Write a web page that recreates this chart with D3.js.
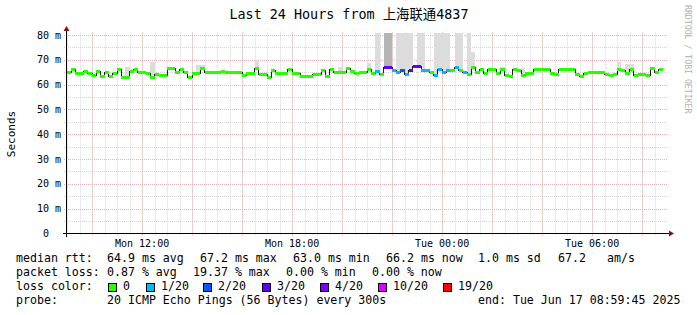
<!DOCTYPE html>
<html>
<head>
<meta charset="utf-8">
<script src="https://cdn.jsdelivr.net/npm/d3@7"></script>
<style>
  body { margin: 0; background: #fff; }
  svg { display: block; }
  text { font-family: "DejaVu Sans Mono", "Noto Sans CJK SC", monospace; fill: #000; white-space: pre; }
</style>
</head>
<body>
<svg id="chart" width="697" height="315"></svg>
<script>
// time window of the graph (UTC)
const windowStart = Date.UTC(2025, 5, 16, 8, 59, 45);
const windowEnd = Date.UTC(2025, 5, 17, 8, 59, 45);
const firstSample = Date.UTC(2025, 5, 16, 9, 0, 0);
const stepMinutes = 10;

// median rtt per step (ms)
const medianRtt = [
  65.2, 66.3, 64.8, 64.8, 65.6, 64.8, 64.0, 65.4, 63.4, 65.2,
  63.5, 64.8, 66.2, 63.2, 63.2, 65.5, 66.2, 65.2, 65.2, 64.5,
  63.2, 64.3, 63.9, 63.9, 66.6, 66.6, 65.2, 66.2, 65.2, 63.2,
  64.6, 64.6, 66.6, 65.2, 65.0, 65.2, 65.2, 65.5, 65.2, 65.2,
  65.0, 65.2, 63.9, 64.8, 64.8, 66.6, 64.3, 64.3, 63.2, 65.9,
  64.8, 64.8, 64.8, 66.2, 64.8, 64.8, 63.5, 63.5, 63.5, 64.3,
  64.3, 65.9, 63.5, 66.2, 65.2, 65.2, 65.2, 66.6, 65.5, 64.8,
  65.2, 65.2, 66.2, 64.8, 65.5, 64.2, 67.2, 67.2, 65.8, 64.9,
  65.8, 64.2, 65.8, 67.5, 67.5, 65.8, 65.8, 64.9, 64.0, 66.3,
  64.9, 65.8, 65.8, 66.9, 65.8, 64.9, 64.2, 66.9, 65.2, 66.4,
  64.8, 66.4, 66.4, 64.8, 66.2, 64.0, 63.6, 66.2, 65.8, 64.0,
  64.8, 64.8, 66.2, 66.4, 66.4, 66.4, 64.8, 64.4, 66.4, 66.4,
  66.4, 66.4, 64.4, 63.6, 64.6, 65.2, 65.2, 65.2, 65.2, 64.4,
  63.8, 64.4, 66.4, 65.8, 64.8, 66.2, 63.8, 64.4, 64.4, 63.8,
  66.6, 65.2, 66.4
];

// lost pings out of 20 per step
const lossCount = [
  0, 0, 0, 0, 0, 0, 0, 0, 0, 0,
  0, 0, 0, 0, 0, 0, 0, 0, 0, 0,
  0, 0, 0, 0, 0, 0, 0, 0, 0, 0,
  0, 0, 0, 0, 0, 0, 0, 0, 0, 0,
  0, 0, 0, 0, 0, 0, 0, 0, 0, 0,
  0, 0, 0, 0, 0, 0, 0, 0, 0, 0,
  0, 0, 0, 0, 0, 0, 0, 0, 0, 0,
  0, 0, 0, 0, 1, 0, 3, 3, 1, 1,
  2, 1, 3, 3, 3, 1, 1, 0, 1, 1,
  1, 1, 0, 1, 0, 1, 0, 0, 0, 0,
  0, 0, 0, 0, 0, 0, 0, 0, 0, 0,
  0, 0, 0, 0, 0, 0, 0, 0, 0, 0,
  0, 0, 0, 0, 0, 0, 0, 0, 0, 0,
  0, 0, 0, 0, 0, 0, 0, 0, 0, 0,
  0, 0, 0
];

// smoke that reaches above the median line (step index, highest ping in ms)
const smokeSteps = [14, 20, 31, 32, 45, 65, 72, 74, 76, 77, 79, 80, 81, 82, 84, 85, 88, 89, 90, 91, 93, 94, 96, 97, 104, 109, 132, 134, 135];
const smokeTop = [67.1, 69.1, 67.9, 67.9, 69.9, 67.1, 68.7, 90, 90, 90, 90, 90, 90, 90, 90, 90, 90, 90, 90, 90, 90, 90, 90, 73.1, 67.1, 66.7, 69.1, 68.3, 68.3];
// steps where most pings sit high (darker smoke)
const denseSteps = [76, 77];
const denseTop = [90, 90];

const yTicks = [0, 10, 20, 30, 40, 50, 60, 70, 80];
const lossLevels = [0, 1, 2, 3, 4, 10, 19];
const lossLabels = ["0", "1/20", "2/20", "3/20", "4/20", "10/20", "19/20"];
const lossPalette = ["#26ff00", "#00b8ff", "#0059ff", "#5e00ff", "#7e00ff", "#dd00ff", "#ff0000"];

const titleText = "Last 24 Hours from 上海联通4837";
const rttLegend = ["median rtt:", "64.9 ms avg", "67.2 ms max", "63.0 ms min", "66.2 ms now", "1.0 ms sd", "67.2", "am/s"];
const lossLegend = ["packet loss:", "0.87 % avg", "19.37 % max", "0.00 % min", "0.00 % now"];
const probeLegend = ["probe:", "20 ICMP Echo Pings (56 Bytes) every 300s", "end: Tue Jun 17 08:59:45 2025"];

// layout
const W = 697, H = 315;
const plotL = 67, plotR = 667, plotT = 32.5, plotB = 233.5;
const svg = d3.select('#chart');
svg.append('rect').attr('width', W).attr('height', H).attr('fill', '#fff');

const x = d3.scaleUtc().domain([windowStart, windowEnd]).range([plotL, plotR]);
const y = d3.scaleLinear().domain([0, 81]).range([plotB, plotT]);
const lossColor = d3.scaleThreshold().domain(lossLevels.slice(1)).range(lossPalette);
const stepTime = i => firstSample + i * stepMinutes * 60000;

const minorColor = '#d4d4d4', majorColor = '#ebb0b0';

// grid
const grid = svg.append('g');
const px = v => Math.round(v) + 0.5;
const minorT = d3.utcMinute.every(30).range(new Date(windowStart), new Date(windowEnd));
const majorT = d3.utcHour.every(2).range(new Date(windowStart), new Date(windowEnd));
grid.selectAll('.vmin').data(minorT).join('line')
  .attr('x1', d => px(x(d))).attr('x2', d => px(x(d)))
  .attr('y1', plotT).attr('y2', plotB + 3)
  .attr('stroke', minorColor).attr('stroke-dasharray', '1,1');
grid.selectAll('.hmin').data(yTicks.slice(0, -1).map(v => v + 5)).join('line')
  .attr('x1', plotL - 3).attr('x2', plotR)
  .attr('y1', d => px(y(d))).attr('y2', d => px(y(d)))
  .attr('stroke', minorColor).attr('stroke-dasharray', '1,1');
grid.selectAll('.vmaj').data(majorT).join('line')
  .attr('x1', d => px(x(d))).attr('x2', d => px(x(d)))
  .attr('y1', plotT).attr('y2', plotB + 3)
  .attr('stroke', majorColor).attr('stroke-dasharray', '1,1');
grid.selectAll('.hmaj').data(yTicks.slice(1)).join('line')
  .attr('x1', plotL - 3).attr('x2', plotR)
  .attr('y1', d => px(y(d))).attr('y2', d => px(y(d)))
  .attr('stroke', majorColor).attr('stroke-dasharray', '1,1');

// plot clip
svg.append('clipPath').attr('id', 'plot')
  .append('rect').attr('x', plotL).attr('y', plotT).attr('width', plotR - plotL).attr('height', plotB - plotT);
const plot = svg.append('g').attr('clip-path', 'url(#plot)').attr('shape-rendering', 'crispEdges');

// smoke
plot.selectAll('.smoke').data(smokeSteps).join('rect')
  .attr('x', d => x(stepTime(d))).attr('width', d => x(stepTime(d + 1)) - x(stepTime(d)))
  .attr('y', (d, i) => y(Math.min(smokeTop[i], 81)))
  .attr('height', (d, i) => y(medianRtt[d]) - y(Math.min(smokeTop[i], 81)))
  .attr('fill', '#dcdcdc');
plot.selectAll('.dense').data(denseSteps).join('rect')
  .attr('x', d => x(stepTime(d))).attr('width', d => x(stepTime(d + 1)) - x(stepTime(d)))
  .attr('y', (d, i) => y(Math.min(denseTop[i], 81)))
  .attr('height', (d, i) => y(medianRtt[d]) - y(Math.min(denseTop[i], 81)))
  .attr('fill', '#b4b4b4');

// median line (black steps) with loss-coloured bands on top
const pts = medianRtt.map((v, i) => [stepTime(i), v]);
pts.push([stepTime(medianRtt.length), medianRtt[medianRtt.length - 1]]);
plot.append('path').datum(pts)
  .attr('d', d3.line().x(d => x(d[0])).y(d => Math.round(y(d[1])) + 0.5).curve(d3.curveStepAfter))
  .attr('fill', 'none').attr('stroke', '#202020').attr('stroke-width', 1);
plot.selectAll('.band').data(medianRtt).join('rect')
  .attr('x', (d, i) => x(stepTime(i))).attr('width', (d, i) => x(stepTime(i + 1)) - x(stepTime(i)))
  .attr('y', d => Math.round(y(d)) - 1).attr('height', 3)
  .attr('fill', (d, i) => lossColor(lossCount[i]));

// axes
const axis = svg.append('g').attr('shape-rendering', 'crispEdges');
axis.append('line').attr('x1', plotL - 4).attr('x2', plotR + 2).attr('y1', plotB).attr('y2', plotB).attr('stroke', '#000');
axis.append('line').attr('x1', plotL - 0.5).attr('x2', plotL - 0.5).attr('y1', plotB + 3).attr('y2', plotT - 2).attr('stroke', '#000');
svg.append('path').attr('d', `M${plotL - 3.5},${plotT - 1.5} L${plotL + 2.5},${plotT - 1.5} L${plotL - 0.5},${plotT - 6.5} Z`).attr('fill', '#8b1010');
svg.append('path').attr('d', `M${plotR + 2},${plotB - 3} L${plotR + 2},${plotB + 3} L${plotR + 7},${plotB} Z`).attr('fill', '#8b1010');

// tick labels
svg.selectAll('.ylab').data(yTicks).join('text')
  .attr('x', 61).attr('y', d => y(d) + 3.6)
  .attr('text-anchor', 'end').attr('font-size', '10px')
  .text(d => d === 0 ? '0  ' : d + ' m');
svg.selectAll('.xlab').data(d3.utcHour.every(6).range(new Date(windowStart), new Date(windowEnd))).join('text')
  .attr('x', d => x(d)).attr('y', 246.5)
  .attr('text-anchor', 'middle').attr('font-size', '10px')
  .text(d => d3.utcFormat('%a %H:%M')(d));

svg.append('text').attr('transform', 'translate(15,134) rotate(-90)')
  .attr('text-anchor', 'middle').attr('font-size', '11px').text('Seconds');
svg.append('text').attr('x', 349).attr('y', 19)
  .attr('text-anchor', 'middle').attr('font-size', '13.4px').text(titleText);
svg.append('text').attr('transform', 'translate(684.5,5) rotate(90)')
  .attr('font-size', '8.2px').style('fill', '#b0b0b0').text('RRDTOOL / TOBI OETIKER');

// legend
const lg = svg.append('g').attr('font-size', '11.6px');
const rttCols = [16, 107, 200, 293, 386, 478, 558, 607];
const lossCols = [16, 107, 193, 286, 372];
const probeCols = [16, 107, 478];
lg.selectAll('.r1').data(rttLegend).join('text').attr('x', (d, i) => rttCols[i]).attr('y', 262).text(d => d);
lg.selectAll('.r2').data(lossLegend).join('text').attr('x', (d, i) => lossCols[i]).attr('y', 276).text(d => d);
lg.selectAll('.r4').data(probeLegend).join('text').attr('x', (d, i) => probeCols[i]).attr('y', 304).text(d => d);
lg.append('text').attr('x', 16).attr('y', 290).text('loss color:');
const boxCols = [108, 146, 203, 262, 320, 378, 443];
const item = lg.selectAll('.lc').data(lossLabels).join('g')
  .attr('transform', (d, i) => `translate(${boxCols[i]},0)`);
item.append('rect').attr('x', 0.5).attr('y', 283.5).attr('width', 8).attr('height', 8)
  .attr('fill', (d, i) => lossPalette[i]).attr('stroke', '#000').attr('shape-rendering', 'crispEdges');
item.append('text').attr('x', 15).attr('y', 290).text(d => d);
</script>
</body>
</html>
